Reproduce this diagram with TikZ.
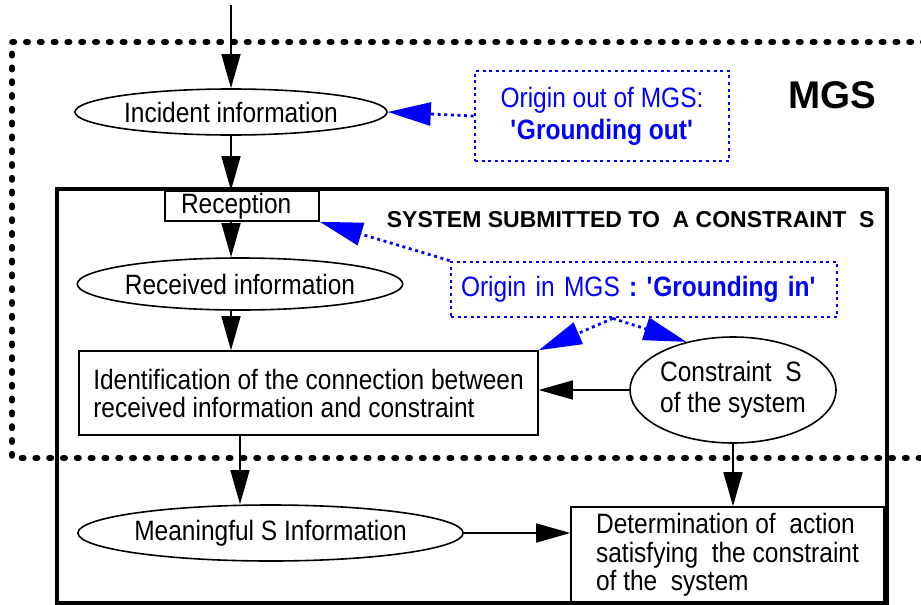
\documentclass[tikz,border=0pt]{standalone}
\usepackage{fontspec}
\setmainfont[FakeStretch=0.875]{Liberation Sans}
\newfontfamily\widesans{Liberation Sans}
\usetikzlibrary{shapes.geometric, arrows.meta, calc}

\begin{document}
\begin{tikzpicture}[x=0.5pt, y=-0.5pt, font=\fontsize{14}{14}\selectfont,
                    every node/.style={inner sep=0pt}]
                \tikzset{
                    info/.style={ellipse, draw, line width=0.8pt},
                    task/.style={rectangle, draw, align=left, line width=0.8pt},
                    flow/.style={-{Triangle[length=17pt, width=9.5pt]}, line width=0.8pt},
                    ground/.style={draw=blue, text=blue, line width=1.4pt, dash pattern=on 1.5pt off 1.8pt},
                    link/.style={blue, line width=1.4pt, dash pattern=on 1.5pt off 1.8pt,
                                 -{Triangle[length=21.5pt, width=11.5pt]}},
                    mgsline/.style={line width=3pt, line cap=round, dash pattern=on 1pt off 5.9pt}
                }
                \useasboundingbox (0,0) rectangle (921,605);

                % frames
                \draw[mgsline] (925,42) -- (12,42) -- (12,458) -- (925,458);
                \draw[line width=2pt] (57,189) rectangle (887,603);

                \node[anchor=base west, font=\widesans\bfseries\fontsize{19.3}{20}\selectfont] (mgs) at (788,108) {MGS};
                \node[anchor=base east, font=\widesans\bfseries\fontsize{11.5}{13}\selectfont] (sys) at (875,227)
                    {SYSTEM SUBMITTED TO\ \ A CONSTRAINT\ \ S};

                \node[info, minimum width=156pt, minimum height=23pt] (inc) at (231,112) {Incident information};
                \node[task, text width=61pt, inner xsep=8pt, minimum height=15pt] (rec) at (242,206) {Reception};
                \node[info, minimum width=150.5pt, minimum height=26pt] (rcv) at (240,284) {Received information};
                \node[task, minimum width=229.5pt, minimum height=42pt] (idn) at (308.5,393)
                    {Identification of the connection between\\received information and constraint};
                \node[info, minimum width=101pt, minimum height=53pt, align=left,
                      font=\fontsize{14}{15.5}\selectfont] (cst) at (733,390) {Constraint\ \ S\\of the system};
                \node[info, minimum width=189.5pt, minimum height=28pt] (mng) at (270.5,533) {Meaningful S Information};
                \node[task, minimum width=156.5pt, minimum height=48pt,
                      font=\fontsize{14}{14.25}\selectfont] (det) at (727.5,555)
                    {Determination of\ \ action\\satisfying\ \ the constraint\\of the\ \ system};

                \node[ground, align=center, minimum width=127pt, minimum height=45pt,
                      font=\fontsize{14}{16}\selectfont] (gout) at (602,116)
                    {Origin out of MGS:\\\textbf{\textquotesingle Grounding out\textquotesingle}};
                \node[ground, align=left, text width=183pt, inner xsep=5pt, minimum height=27.5pt] (gin) at (644,289.5)
                    {Origin in MGS \textbf{: \textquotesingle Grounding in\textquotesingle}};

                % black flow
                \coordinate (src) at (231,5);
                \draw[flow] (src) -- (inc);
                \draw[flow] (inc) -- (inc |- rec.north);
                \draw[flow] (inc |- rec.south) -- (inc |- rcv.north);
                \draw[flow] (inc |- rcv.south) -- (inc |- idn.north);
                \draw[flow] (idn.south -| rcv) -- (mng.north -| rcv);
                \draw[flow] (cst) -- (idn.east |- cst);
                \draw[flow] (cst) -- (cst |- det.north);
                \draw[flow] (mng) -- (det.west |- mng);

                % grounding links
                \coordinate (fork) at ($(gin.south west)!0.42!(gin.south east)$);
                \draw[link] (gout.west) -- (inc.east);
                \draw[link] (gin.north west) -- (rec.south east);
                \draw[link] (fork) -- (idn.north east);
                \draw[link] (fork) -- (cst.134);

            \end{tikzpicture}
\end{document}
